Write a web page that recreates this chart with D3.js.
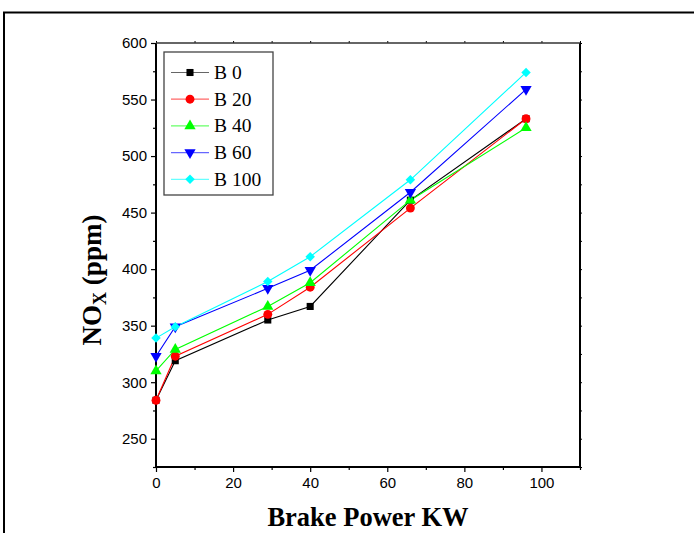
<!DOCTYPE html>
<html>
<head>
<meta charset="utf-8">
<script src="https://cdn.jsdelivr.net/npm/d3@7"></script>
<style>
  body { margin: 0; background: #fff; }
  .tick text { font-family: "Liberation Sans", Arial, sans-serif; font-size: 15px; fill: #000; }
</style>
</head>
<body>
<div id="chart"></div>
<script>
// data
const power = [0, 5, 29, 40, 66, 96];
const seriesNames = ["B 0", "B 20", "B 40", "B 60", "B 100"];
const b0   = [284, 319, 355, 367, 461, 533];
const b20  = [284, 323, 360, 384, 454, 533];
const b40  = [310, 329, 367, 388, 461, 525];
const b60  = [323, 349, 383, 399, 468, 559];
const b100 = [339, 349, 389, 411, 479, 574];
const colors = ["#000000", "#ff0000", "#00ff00", "#0000ff", "#00ffff"];
const yMajor = [250, 300, 350, 400, 450, 500, 550, 600];
const yMinor = [225, 275, 325, 375, 425, 475, 525, 575];
const xMajor = [0, 20, 40, 60, 80, 100];
const xMinor = [10, 30, 50, 70, 90, 110];

const W = 694, H = 533;
const plot = {left: 156, right: 580, top: 43, bottom: 467};

const svg = d3.select("#chart").append("svg")
    .attr("width", W)
    .attr("height", H);

// outer frame (top + left only)
svg.append("path")
    .attr("d", `M4,${H} L4,12.5 L${W},12.5`)
    .attr("fill", "none")
    .attr("stroke", "#000")
    .attr("stroke-width", 2);

const x = d3.scaleLinear().domain([0, 110]).range([plot.left, plot.right]);
const y = d3.scaleLinear().domain([225, 600]).range([plot.bottom, plot.top]);

// left axis
svg.append("g")
    .attr("transform", `translate(${plot.left},0)`)
    .call(d3.axisLeft(y).tickValues(yMajor).tickSize(5).tickPadding(4).tickFormat(d3.format("d")))
    .call(g => g.select(".domain").remove())
    .call(g => g.selectAll("line").attr("stroke-width", 1.2));
svg.append("g")
    .attr("transform", `translate(${plot.left},0)`)
    .call(d3.axisLeft(y).tickValues(yMinor).tickSize(3).tickFormat(""))
    .call(g => g.select(".domain").remove())
    .call(g => g.selectAll("line").attr("stroke-width", 1.2));

// bottom axis
svg.append("g")
    .attr("transform", `translate(0,${plot.bottom})`)
    .call(d3.axisBottom(x).tickValues(xMajor).tickSize(5).tickPadding(5))
    .call(g => g.select(".domain").remove())
    .call(g => g.selectAll("line").attr("stroke-width", 1.2));
svg.append("g")
    .attr("transform", `translate(0,${plot.bottom})`)
    .call(d3.axisBottom(x).tickValues(xMinor).tickSize(3).tickFormat(""))
    .call(g => g.select(".domain").remove())
    .call(g => g.selectAll("line").attr("stroke-width", 1.2));

// top and right axes (small ticks, no labels)
svg.append("g")
    .attr("transform", `translate(0,${plot.top})`)
    .call(d3.axisTop(x).tickValues(xMajor.concat(xMinor)).tickSize(2).tickFormat(""))
    .call(g => g.select(".domain").remove());
svg.append("g")
    .attr("transform", `translate(${plot.right},0)`)
    .call(d3.axisRight(y).tickValues(yMajor.concat(yMinor)).tickSize(2).tickFormat(""))
    .call(g => g.select(".domain").remove());

// plot frame
svg.append("line").attr("x1", plot.left).attr("x2", plot.left).attr("y1", plot.top).attr("y2", plot.bottom + 1)
    .attr("stroke", "#000").attr("stroke-width", 2);
svg.append("line").attr("x1", plot.left - 1).attr("x2", plot.right + 1).attr("y1", plot.bottom).attr("y2", plot.bottom)
    .attr("stroke", "#000").attr("stroke-width", 2);
svg.append("line").attr("x1", plot.right).attr("x2", plot.right).attr("y1", plot.top).attr("y2", plot.bottom)
    .attr("stroke", "#000").attr("stroke-width", 2);
svg.append("line").attr("x1", plot.left).attr("x2", plot.right).attr("y1", plot.top).attr("y2", plot.top)
    .attr("stroke", "#333").attr("stroke-width", 1.5);

// markers
const symbols = [
    {type: d3.symbolSquare, size: 50, rot: 0},
    {type: d3.symbolCircle, size: 62, rot: 0},
    {type: d3.symbolTriangle, size: 55, rot: 0},
    {type: d3.symbolTriangle, size: 55, rot: 180},
    {type: d3.symbolSquare, size: 45, rot: 45}
];

const allSeries = [b0, b20, b40, b60, b100];
const line = d3.line().x((d, i) => x(power[i])).y(d => y(d));

allSeries.forEach((vals, k) => {
    svg.append("path")
        .datum(vals)
        .attr("fill", "none")
        .attr("stroke", colors[k])
        .attr("stroke-width", 1.1)
        .attr("d", line);
});
allSeries.forEach((vals, k) => {
    const sym = d3.symbol().type(symbols[k].type).size(symbols[k].size);
    svg.append("g").selectAll("path")
        .data(vals)
        .join("path")
        .attr("d", sym)
        .attr("fill", colors[k])
        .attr("transform", (d, i) => `translate(${x(power[i])},${y(d)}) rotate(${symbols[k].rot})`);
});

// legend
const legend = svg.append("g");
legend.append("rect")
    .attr("x", 164).attr("y", 52)
    .attr("width", 109).attr("height", 143)
    .attr("fill", "#fff")
    .attr("stroke", "#444")
    .attr("stroke-width", 1.3);
seriesNames.forEach((name, k) => {
    const cy = 72.5 + k * 26.7;
    legend.append("line")
        .attr("x1", 171).attr("x2", 209)
        .attr("y1", cy).attr("y2", cy)
        .attr("stroke", colors[k])
        .attr("stroke-opacity", 0.6)
        .attr("stroke-width", 1.2);
    legend.append("path")
        .attr("d", d3.symbol().type(symbols[k].type).size(symbols[k].size))
        .attr("fill", colors[k])
        .attr("transform", `translate(190,${cy}) rotate(${symbols[k].rot})`);
    legend.append("text")
        .attr("x", 214).attr("y", cy + 6.5)
        .attr("font-family", "'Liberation Serif', 'Times New Roman', serif")
        .attr("font-size", 19.5)
        .text(name);
});

// axis titles
svg.append("text")
    .attr("x", (plot.left + plot.right) / 2)
    .attr("y", 526)
    .attr("text-anchor", "middle")
    .attr("font-family", "'Liberation Serif', 'Times New Roman', serif")
    .attr("font-weight", "bold")
    .attr("font-size", 26.5)
    .text("Brake Power KW");

const yt = svg.append("text")
    .attr("transform", `translate(101,280) rotate(-90)`)
    .attr("text-anchor", "middle")
    .attr("font-family", "'Liberation Serif', 'Times New Roman', serif")
    .attr("font-weight", "bold")
    .attr("font-size", 27);
yt.append("tspan").text("NO");
yt.append("tspan").attr("font-size", 18).attr("dy", 5).text("X");
yt.append("tspan").attr("dy", -5).text(" (ppm)");
</script>
</body>
</html>
